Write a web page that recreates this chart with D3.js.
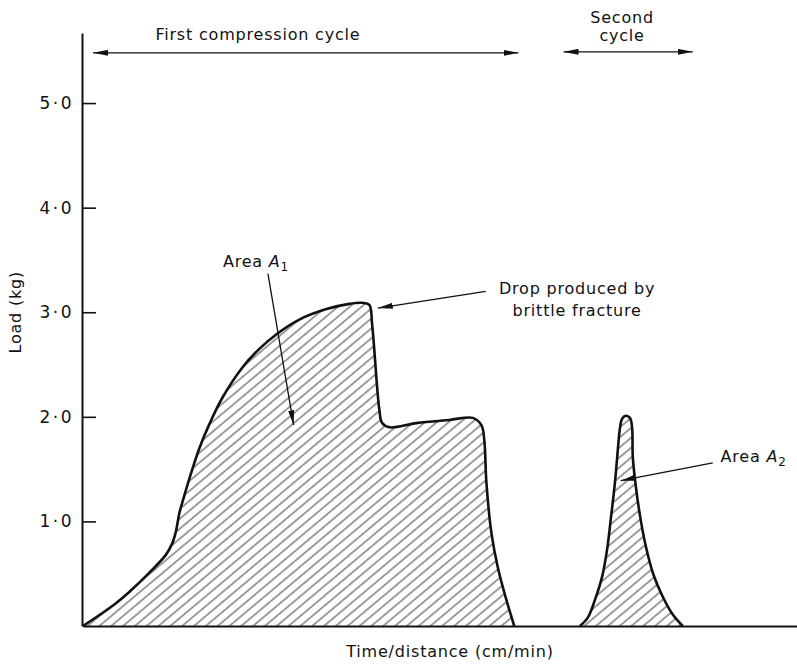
<!DOCTYPE html>
<html>
<head>
<meta charset="utf-8">
<script src="https://cdn.jsdelivr.net/npm/d3@7"></script>
<style>
  html, body { margin: 0; padding: 0; background: #fff; }
  svg text { font-family: "DejaVu Sans", sans-serif; fill: #111; }
</style>
</head>
<body>
<svg id="chart" width="797" height="666"></svg>
<script>
// Load–time trace of a two-bite compression test (arbitrary time units)
const firstTime = [0, 2.2, 4.3, 6.4, 9.3, 11.6, 12.5, 13.0, 13.5, 14.2, 14.9, 16.3, 17.7, 19.5, 22.3, 24.7, 27.1, 30.3, 34.1, 37.3, 39.1, 40.1, 40.5, 41.5, 41.9, 42.9, 46.7, 51.3, 54.6, 55.8, 56.2, 56.5, 57.2, 58.1, 59.3, 60.4];
const firstLoad = [0, 0.10, 0.20, 0.32, 0.51, 0.68, 0.79, 0.90, 1.08, 1.25, 1.41, 1.70, 1.93, 2.18, 2.47, 2.65, 2.79, 2.93, 3.03, 3.08, 3.09, 3.07, 2.88, 2.07, 1.94, 1.90, 1.94, 1.97, 1.99, 1.92, 1.78, 1.37, 0.89, 0.56, 0.25, 0];
const secondTime = [69.6, 70.7, 71.7, 72.7, 73.4, 73.9, 74.5, 74.9, 75.2, 75.5, 76.0, 76.6, 76.9, 77.0, 77.4, 78.0, 78.8, 79.9, 81.2, 82.6, 84.0];
const secondLoad = [0, 0.08, 0.25, 0.47, 0.73, 1.01, 1.37, 1.68, 1.89, 1.98, 2.01, 1.99, 1.90, 1.62, 1.35, 1.06, 0.77, 0.49, 0.28, 0.11, 0];
const loadTicks = [1, 2, 3, 4, 5];

const svg = d3.select("#chart");
const x = d3.scaleLinear().domain([0, 100]).range([83, 797]);
const y = d3.scaleLinear().domain([0, 5.67]).range([626, 33]);

const defs = svg.append("defs");
const hatch = defs.append("pattern")
  .attr("id", "hatch")
  .attr("patternUnits", "userSpaceOnUse")
  .attr("width", 10).attr("height", 7.6)
  .attr("patternTransform", "rotate(-40)");
hatch.append("line")
  .attr("x1", 0).attr("x2", 10).attr("y1", 3.8).attr("y2", 3.8)
  .attr("stroke", "#222").attr("stroke-width", 0.9);

function marker(id, len, wid, orient) {
  defs.append("marker")
    .attr("id", id)
    .attr("viewBox", `0 ${-wid / 2} ${len} ${wid}`)
    .attr("refX", len).attr("refY", 0)
    .attr("markerUnits", "userSpaceOnUse")
    .attr("markerWidth", len).attr("markerHeight", wid)
    .attr("orient", orient)
    .append("path")
    .attr("d", `M0,${-wid / 2}L${len},0L0,${wid / 2}Z`)
    .attr("fill", "#111");
}
marker("head", 15, 6, "auto");
marker("headStart", 15, 6, "auto-start-reverse");

// Axes
const yAxis = d3.axisLeft(y)
  .tickValues(loadTicks)
  .tickSizeInner(-14).tickSizeOuter(0).tickPadding(8)
  .tickFormat(d => d.toFixed(1).replace(".", "·"));
const gy = svg.append("g").attr("transform", `translate(${x(0) - 1},0)`).call(yAxis);
gy.select(".domain").attr("stroke", "#111").attr("stroke-width", 2);
gy.selectAll(".tick line").attr("stroke", "#111").attr("stroke-width", 1.6);
gy.selectAll(".tick text")
  .attr("font-size", 17).attr("letter-spacing", 2.5)
  .attr("font-family", "DejaVu Sans, sans-serif").attr("fill", "#111");

const xAxis = d3.axisBottom(x).tickValues([]).tickSizeOuter(0);
const gx = svg.append("g").attr("transform", `translate(0,${y(0)})`).call(xAxis);
gx.select(".domain").attr("stroke", "#111").attr("stroke-width", 2);

// Hatched areas with outlines
const curve = d3.curveCatmullRom.alpha(0.5);
const area = d3.area()
  .x(d => x(d[0])).y0(y(0)).y1(d => y(d[1]))
  .curve(curve);
const line = d3.line()
  .x(d => x(d[0])).y(d => y(d[1]))
  .curve(curve);

[[firstTime, firstLoad], [secondTime, secondLoad]].forEach(([ts, ls]) => {
  const pts = ts.map((t, i) => [t, ls[i]]);
  svg.append("path").attr("d", area(pts)).attr("fill", "url(#hatch)");
  svg.append("path").attr("d", line(pts))
    .attr("fill", "none").attr("stroke", "#111")
    .attr("stroke-width", 2.6).attr("stroke-linejoin", "round");
});

// Cycle span arrows
function span(t0, t1, load) {
  svg.append("line")
    .attr("x1", x(t0)).attr("x2", x(t1)).attr("y1", y(load)).attr("y2", y(load))
    .attr("stroke", "#111").attr("stroke-width", 1.4)
    .attr("marker-start", "url(#headStart)").attr("marker-end", "url(#head)");
}
span(firstTime[0] + 1.4, 61.0, 5.48);
span(67.3, 85.4, 5.49);

const label = (tx, py, txt, anchor = "middle") =>
  svg.append("text").attr("x", x(tx)).attr("y", py)
    .attr("text-anchor", anchor).attr("font-size", 16).attr("letter-spacing", 0.8)
    .text(txt);

label(24.5, 40, "First compression cycle");
label(75.5, 23, "Second");
label(75.5, 41, "cycle");

// Annotations
function pointer(t0, l0, t1, l1) {
  svg.append("line")
    .attr("x1", x(t0)).attr("y1", y(l0)).attr("x2", x(t1)).attr("y2", y(l1))
    .attr("stroke", "#111").attr("stroke-width", 1.3)
    .attr("marker-end", "url(#head)");
}
function areaLabel(tx, ly, sub) {
  const t = svg.append("text").attr("x", x(tx)).attr("y", y(ly))
    .attr("font-size", 16).attr("letter-spacing", 0.8);
  t.append("tspan").text("Area ");
  t.append("tspan").attr("font-style", "italic").text("A");
  t.append("tspan").attr("font-size", 12).attr("dy", 4).text(sub);
}
areaLabel(19.6, 3.43, "1");
pointer(25.9, 3.37, 29.5, 1.92);

label(69.2, y(3.17), "Drop produced by");
label(69.2, y(2.96), "brittle fracture");
pointer(56.4, 3.20, 41.3, 3.04);

areaLabel(89.3, 1.57, "2");
pointer(88.2, 1.56, 75.3, 1.39);

label(51.4, 657, "Time/distance (cm/min)");
svg.append("text")
  .attr("transform", `translate(21,${y(3.0)}) rotate(-90)`)
  .attr("text-anchor", "middle").attr("font-size", 16).attr("letter-spacing", 0.8)
  .text("Load (kg)");
</script>
</body>
</html>
